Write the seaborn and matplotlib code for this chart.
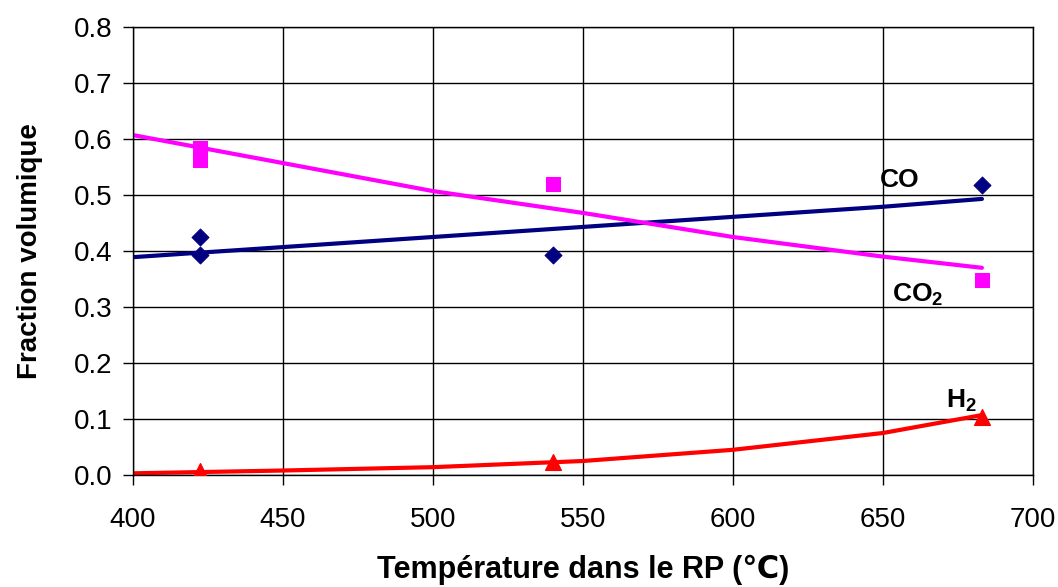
import pandas as pd
import seaborn as sns
import matplotlib.pyplot as plt

# model curves
temp_line = [400, 450, 500, 550, 600, 650, 683]
co_line = [0.389, 0.407, 0.425, 0.443, 0.461, 0.479, 0.493]
co2_line = [0.607, 0.557, 0.507, 0.468, 0.425, 0.390, 0.370]
h2_line = [0.003, 0.008, 0.014, 0.025, 0.045, 0.075, 0.107]

# measured points
co_temp = [422.5, 422.5, 540, 683]
co_meas = [0.425, 0.393, 0.393, 0.518]
co2_temp = [422.5, 422.5, 540, 683]
co2_meas = [0.584, 0.563, 0.520, 0.348]
h2_temp = [422.5, 540, 683]
h2_meas = [0.007, 0.024, 0.103]

navy = "#000080"
magenta = "#FF00FF"
red = "#FF0000"

lines = pd.DataFrame({"T": temp_line, "CO": co_line, "CO2": co2_line, "H2": h2_line})

sns.set_theme(style="whitegrid")
plt.rcParams["font.family"] = ["Liberation Sans", "DejaVu Sans"]
plt.rcParams["mathtext.fontset"] = "custom"
plt.rcParams["mathtext.rm"] = "Liberation Sans"
plt.rcParams["mathtext.bf"] = "Liberation Sans:bold"
plt.rcParams["text.color"] = "black"
plt.rcParams["axes.labelcolor"] = "black"
plt.rcParams["xtick.color"] = "black"
plt.rcParams["ytick.color"] = "black"

fig = plt.figure(figsize=(10.58, 5.87), dpi=100)
ax = fig.add_axes([0.1257, 0.1908, 0.8506, 0.7632])

sns.lineplot(data=lines, x="T", y="CO", color=navy, linewidth=3, ax=ax)
sns.lineplot(data=lines, x="T", y="CO2", color=magenta, linewidth=3, ax=ax)
sns.lineplot(data=lines, x="T", y="H2", color=red, linewidth=3, ax=ax)

sns.scatterplot(x=co_temp, y=co_meas, marker="D", color=navy, s=75, edgecolor=navy, ax=ax, zorder=5)
sns.scatterplot(x=co2_temp, y=co2_meas, marker="s", color=magenta, s=90, edgecolor=magenta, ax=ax, zorder=5)
sns.scatterplot(x=h2_temp, y=h2_meas, marker="^", color=red, s=130, edgecolor=red, ax=ax, zorder=5)

ax.text(649, 0.515, "CO", fontsize=19, fontweight="bold")
ax.text(653, 0.31, "CO$_\\mathbf{2}$", fontsize=19, fontweight="bold")
ax.text(671, 0.12, "H$_\\mathbf{2}$", fontsize=19, fontweight="bold")

ax.set_xlim(400, 700)
ax.set_ylim(0, 0.8)
ax.set_xticks(range(400, 701, 50))
ax.set_yticks([i / 10 for i in range(9)])
ax.set_yticklabels([f"{i / 10:.1f}" for i in range(9)])
ax.tick_params(axis="both", labelsize=20, length=7, width=1, color="black",
               direction="out", left=True, bottom=True)
ax.tick_params(axis="x", pad=16)
ax.tick_params(axis="y", pad=8)
ax.grid(True, color="black", linewidth=1)
for sp in ax.spines.values():
    sp.set_color("black")
    sp.set_linewidth(1)

ax.set_xlabel("Température dans le RP (℃)", fontsize=22, fontweight="bold", labelpad=16)
ax.set_ylabel("Fraction volumique", fontsize=20, fontweight="bold", labelpad=22)

fig.savefig("out.png", dpi=100)
